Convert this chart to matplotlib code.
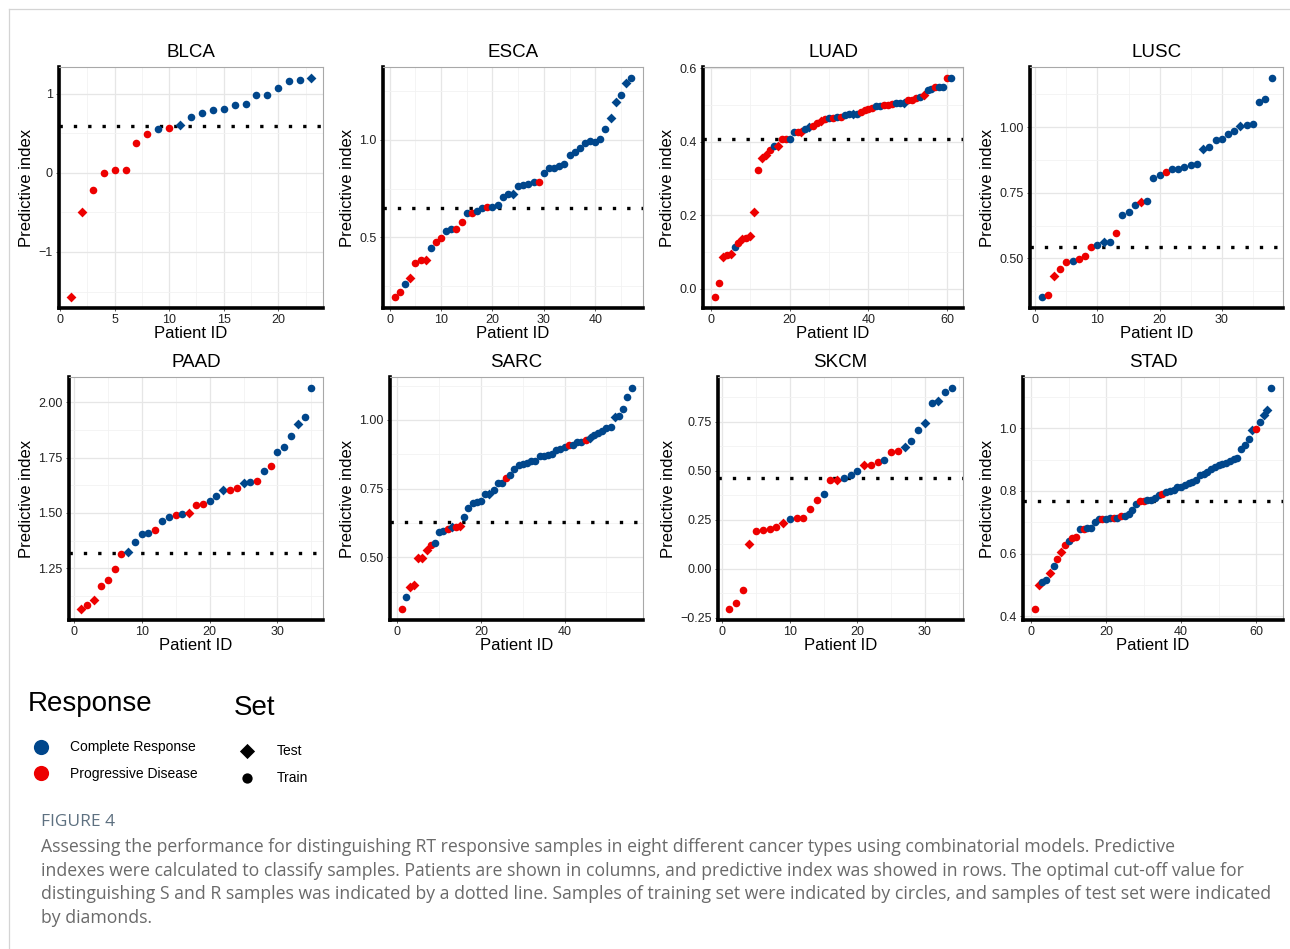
import matplotlib
matplotlib.use("Agg")
import matplotlib.pyplot as plt
from matplotlib.ticker import MultipleLocator, FuncFormatter

plt.rcParams['font.family'] = ['Liberation Sans', 'DejaVu Sans']

# ---------------- data ----------------
# response: C = complete response, P = progressive disease
# test: 1-based patient ids drawn as diamonds (test set)

blca_vals = [-1.57, -0.49, -0.22, 0.00, 0.03, 0.03, 0.38, 0.49, 0.56, 0.57, 0.61, 0.71,
             0.76, 0.80, 0.81, 0.86, 0.87, 0.98, 0.99, 1.07, 1.16, 1.17, 1.20]
blca_resp = "PPPPPPPPCPCCCCCCCCCCCCC"
blca_test = [1, 2, 11, 23]
blca_cut = 0.59

esca_vals = [0.195, 0.22, 0.263, 0.29, 0.37, 0.386, 0.386, 0.444, 0.475, 0.498, 0.532, 0.546,
             0.542, 0.58, 0.624, 0.627, 0.637, 0.653, 0.654, 0.654, 0.664, 0.708, 0.725, 0.725,
             0.763, 0.768, 0.775, 0.783, 0.786, 0.83, 0.854, 0.854, 0.868, 0.875, 0.922, 0.939,
             0.956, 0.983, 0.993, 0.99, 1.003, 1.056, 1.112, 1.195, 1.229, 1.293, 1.317]
esca_resp = "PPCPPPPCPPCCPPCPCCPCC" + "CCCCCCC" + "P" + "C" * 18
esca_test = [4, 7, 24, 43, 44, 46]
esca_cut = 0.653

luad_vals = [-0.023, 0.014, 0.086, 0.092, 0.093, 0.113, 0.124, 0.135, 0.138, 0.142,
             0.208, 0.324, 0.356, 0.365, 0.377, 0.389, 0.389, 0.407, 0.407, 0.407,
             0.426, 0.426, 0.427, 0.435, 0.439, 0.442, 0.452, 0.457, 0.463, 0.465,
             0.465, 0.467, 0.467, 0.472, 0.475, 0.477, 0.477, 0.481, 0.486, 0.489,
             0.491, 0.497, 0.498, 0.499, 0.501, 0.503, 0.505, 0.505, 0.505, 0.513,
             0.514, 0.520, 0.523, 0.528, 0.541, 0.544, 0.549, 0.550, 0.550, 0.574, 0.574]
luad_resp = "PPPPPCPPPP" "PPPPPCPPPC" "CPPCCPPPPC" "PCPCCCCPPP" "PCCPPPCCCP" "PPCPCCPCCP" "C"
luad_test = [3, 5, 8, 10, 11, 13, 14, 17, 23, 25, 28, 36, 49, 54]
luad_cut = 0.407

lusc_vals = [0.352, 0.359, 0.434, 0.46, 0.485, 0.489, 0.497, 0.508, 0.542, 0.551, 0.561, 0.563,
             0.596, 0.665, 0.678, 0.702, 0.713, 0.718, 0.807, 0.817, 0.831, 0.841, 0.842, 0.85,
             0.855, 0.86, 0.917, 0.923, 0.952, 0.956, 0.976, 0.986, 1.004, 1.01, 1.011, 1.097,
             1.106, 1.188]
lusc_resp = "CPPPPCPPPC" "CCPCCCPCCC" "PCCCCCCCCC" "CCCCCCCC"
lusc_test = [3, 11, 17, 27, 33]
lusc_cut = 0.544

paad_vals = [1.066, 1.084, 1.108, 1.169, 1.197, 1.247, 1.315, 1.322, 1.367, 1.405, 1.408, 1.425,
             1.465, 1.48, 1.491, 1.494, 1.50, 1.536, 1.539, 1.556, 1.578, 1.604, 1.605, 1.611,
             1.636, 1.639, 1.646, 1.69, 1.712, 1.774, 1.798, 1.846, 1.902, 1.932, 2.065]
paad_resp = "PPPPPPPCCC" "CPCCPCPPPC" "CCPPCCPCPC" "CCCCC"
paad_test = [1, 3, 8, 17, 22, 25, 33]
paad_cut = 1.319

sarc_vals = [0.312, 0.355, 0.393, 0.40, 0.498, 0.499, 0.525, 0.545, 0.551, 0.591, 0.594, 0.603,
             0.609, 0.609, 0.613, 0.645, 0.678, 0.697, 0.702, 0.705, 0.73, 0.73, 0.746, 0.77,
             0.77, 0.789, 0.799, 0.821, 0.835, 0.838, 0.845, 0.85, 0.851, 0.869, 0.869, 0.872,
             0.877, 0.889, 0.893, 0.90, 0.909, 0.91, 0.92, 0.921, 0.927, 0.936, 0.946, 0.952,
             0.961, 0.97, 0.973, 1.011, 1.013, 1.041, 1.085, 1.116]
sarc_resp = "PCPPPPPPCC" "CPCPPCCCCC" "CCCCCPCCCC" "CCCCCCCCCC" "PCCCPCCCCC" "CCCCCC"
sarc_test = [3, 4, 5, 6, 7, 13, 15, 22, 46, 52]
sarc_cut = 0.63

skcm_vals = [-0.204, -0.173, -0.105, 0.126, 0.196, 0.20, 0.204, 0.214, 0.235, 0.255, 0.258,
             0.258, 0.306, 0.354, 0.384, 0.456, 0.456, 0.466, 0.481, 0.502, 0.531, 0.532,
             0.548, 0.556, 0.595, 0.604, 0.624, 0.653, 0.709, 0.743, 0.847, 0.859, 0.901, 0.923]
skcm_resp = "PPPPPPPPPC" "PPPPCPPCCC" "PPPCPPCCCC" "CCCC"
skcm_test = [4, 9, 17, 21, 27, 30, 32]
skcm_cut = 0.463

stad_vals = [0.423, 0.50, 0.508, 0.516, 0.537, 0.56, 0.583, 0.606, 0.626, 0.64, 0.65, 0.653,
             0.679, 0.68, 0.681, 0.682, 0.702, 0.709, 0.709, 0.71, 0.713, 0.715, 0.715, 0.719,
             0.721, 0.727, 0.738, 0.759, 0.768, 0.768, 0.771, 0.772, 0.777, 0.787, 0.789, 0.796,
             0.80, 0.803, 0.812, 0.814, 0.819, 0.826, 0.83, 0.836, 0.852, 0.854, 0.86, 0.87,
             0.876, 0.883, 0.886, 0.891, 0.897, 0.902, 0.904, 0.934, 0.948, 0.966, 0.995, 0.998,
             1.021, 1.043, 1.059, 1.129]
stad_resp = "PPCCPCPPPC" "PPCPCCCCPC" "CPCPCCCCPP" "CCCCPCCCCC" "CCCCCCCCCC" "CCCCCCCCCP" "CCCC"
stad_test = [2, 5, 8, 59, 62, 63]
stad_cut = 0.768

BLUE = "#00468B"
RED = "#ED0000"
W, H = 1290, 949

# name, values, response, test ids, cutoff, x step, y step, y decimals, (left, top, right, bottom) px
panels = [
    ("BLCA", blca_vals, blca_resp, blca_test, blca_cut, 5, 1.0, 0, (59, 67, 323, 308)),
    ("ESCA", esca_vals, esca_resp, esca_test, esca_cut, 10, 0.5, 1, (383, 67, 643, 308)),
    ("LUAD", luad_vals, luad_resp, luad_test, luad_cut, 20, 0.2, 1, (703, 67, 963, 308)),
    ("LUSC", lusc_vals, lusc_resp, lusc_test, lusc_cut, 10, 0.25, 2, (1030, 67, 1283, 308)),
    ("PAAD", paad_vals, paad_resp, paad_test, paad_cut, 10, 0.25, 2, (69, 377, 323, 620)),
    ("SARC", sarc_vals, sarc_resp, sarc_test, sarc_cut, 20, 0.25, 2, (390, 377, 643, 620)),
    ("SKCM", skcm_vals, skcm_resp, skcm_test, skcm_cut, 10, 0.25, 2, (718, 377, 963, 620)),
    ("STAD", stad_vals, stad_resp, stad_test, stad_cut, 20, 0.2, 1, (1023, 377, 1283, 620)),
]

fig = plt.figure(figsize=(W / 100, H / 100), dpi=100)

# background overlay for legend, caption and frame
ov = fig.add_axes([0, 0, 1, 1], zorder=0)
ov.set_xlim(0, W)
ov.set_ylim(H, 0)
ov.axis("off")


def fmt_factory(dec):
    def f(v, pos):
        s = f"{v:.{dec}f}"
        if s.startswith("-") and float(s) != 0:
            s = "\u2212" + s[1:]
        elif s.startswith("-"):
            s = s[1:]
        return s
    return f


for name, vals, resp, test, cut, xstep, ystep, ydec, (l, t, r, b) in panels:
    ax = fig.add_axes([l / W, 1 - b / H, (r - l) / W, (b - t) / H], zorder=2)
    n = len(vals)
    ids = list(range(1, n + 1))
    for i, v, rc in zip(ids, vals, resp):
        col = BLUE if rc == "C" else RED
        if i in test:
            ax.scatter(i, v, marker="D", s=25, color=col, linewidths=0, zorder=4)
        else:
            ax.scatter(i, v, marker="o", s=30, color=col, linewidths=0, zorder=4)
    ax.axhline(cut, color="black", lw=2.4, linestyle=(0, (1, 3.3)),
               dash_capstyle="butt", zorder=3)

    xpad = 0.05 * (n - 1)
    ax.set_xlim(1 - xpad, n + xpad)
    ypad = 0.05 * (max(vals) - min(vals))
    ax.set_ylim(min(vals) - ypad, max(vals) + ypad)

    ax.xaxis.set_major_locator(MultipleLocator(xstep))
    ax.xaxis.set_minor_locator(MultipleLocator(xstep / 2))
    ax.yaxis.set_major_locator(MultipleLocator(ystep))
    ax.yaxis.set_minor_locator(MultipleLocator(ystep / 2))
    ax.yaxis.set_major_formatter(FuncFormatter(fmt_factory(ydec)))
    ax.grid(which="major", color="#e6e6e6", lw=0.9, zorder=0)
    ax.grid(which="minor", color="#f2f2f2", lw=0.6, zorder=0)
    ax.set_axisbelow(True)

    for sp in ("top", "right"):
        ax.spines[sp].set_color("#a8a8a8")
        ax.spines[sp].set_linewidth(0.8)
    for sp in ("left", "bottom"):
        ax.spines[sp].set_color("black")
        ax.spines[sp].set_linewidth(2.6)

    ax.tick_params(which="major", length=2.5, width=0.6, color="#444444",
                   labelsize=9, labelcolor="#222222", pad=2)
    ax.tick_params(which="minor", length=0)
    ax.set_xlabel("Patient ID", fontsize=12, labelpad=0)
    ax.set_ylabel("Predictive index", fontsize=12, labelpad=3)
    ax.set_title(name, fontsize=13.5, pad=7)

# legend
ov.text(28, 704, "Response", fontsize=20, va="center", ha="left")
ov.text(234, 708, "Set", fontsize=20, va="center", ha="left")
ov.scatter([41], [747], s=120, color=BLUE, linewidths=0)
ov.scatter([41], [773], s=120, color=RED, linewidths=0)
ov.text(70, 747, "Complete Response", fontsize=10, va="center")
ov.text(70, 774, "Progressive Disease", fontsize=10, va="center")
ov.scatter([247], [751], s=60, marker="D", color="black", linewidths=0)
ov.scatter([247], [778], s=55, marker="o", color="black", linewidths=0)
ov.text(277, 751, "Test", fontsize=10, va="center")
ov.text(277, 778, "Train", fontsize=10, va="center")

# frame
ov.plot([9, 9], [9, H], color="#d4d4d4", lw=0.9)
ov.plot([9, W], [9, 9], color="#d4d4d4", lw=0.9)

# caption
caption = [
    "Assessing the performance for distinguishing RT responsive samples in eight different cancer types using combinatorial models. Predictive",
    "indexes were calculated to classify samples. Patients are shown in columns, and predictive index was showed in rows. The optimal cut-off value for",
    "distinguishing S and R samples was indicated by a dotted line. Samples of training set were indicated by circles, and samples of test set were indicated",
    "by diamonds.",
]
ov.text(41, 822, "FIGURE 4", fontsize=12.5, color="#5d7080", family="Open Sans",
        va="center")
for k, line in enumerate(caption):
    ov.text(41, 847 + k * 23.7, line, fontsize=12.7, color="#6a6a6a",
            family="Open Sans", va="center")

fig.savefig("out.png", dpi=100)
